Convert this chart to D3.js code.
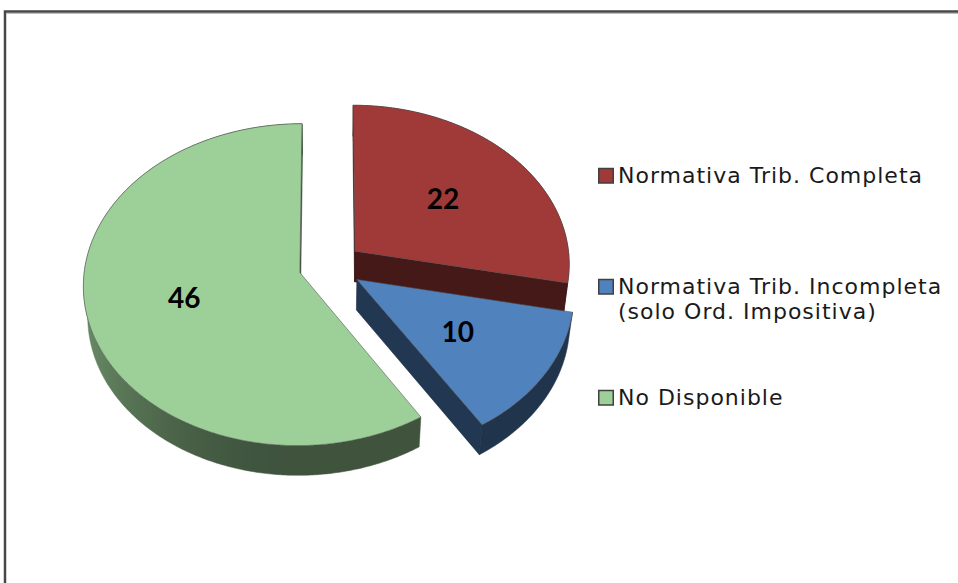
<!DOCTYPE html>
<html>
<head>
<meta charset="utf-8">
<script src="https://cdn.jsdelivr.net/npm/d3@7"></script>
<style>
  body { margin: 0; background: #fff; }
  svg { display: block; }
</style>
</head>
<body>
<div id="chart"></div>
<script>
// data
var categories = ["Normativa Trib. Completa", "Normativa Trib. Incompleta (solo Ord. Impositiva)", "No Disponible"];
var values = [22, 10, 46];
var topColors = ["#A03A38", "#5082BE", "#9DD099"];

var width = 958, height = 583;

const svg = d3.select("#chart")
  .append("svg")
    .attr("width", width)
    .attr("height", height);

// outer frame of the chart (runs off the right/bottom edge in the picture)
svg.append("rect")
  .attr("x", 5).attr("y", 11.5)
  .attr("width", 1200).attr("height", 1200)
  .attr("fill", "none")
  .attr("stroke", "#474747")
  .attr("stroke-width", 2.5);
svg.append("line")
  .attr("x1", 6.5).attr("x2", width).attr("y1", 13.5).attr("y2", 13.5)
  .attr("stroke", "#bbb").attr("stroke-width", 1);

// ---- simple perspective camera for the 3D pie ----
var cx = 330.5, cy = 266;      // where the pie centre lands on screen
var D = 8.97;                  // camera distance (in pie radii)
var tilt = 47.7 * Math.PI / 180;
var sinT = Math.sin(tilt), cosT = Math.cos(tilt);
var F = 215 * D;               // so a radius of 1 is ~215px wide
var thick = 0.215;             // pie thickness
var explode = 0.148;           // every slice pulled out by this much

function proj(u, v, y) {
  // u = right, v = away from viewer, y = up
  var depth = D + v * cosT - y * sinT;
  return [cx + F * u / depth, cy - F * (v * sinT + y * cosT) / depth];
}

function shade(hex, k) {
  var c = d3.rgb(hex);
  return d3.rgb(c.r * k, c.g * k, c.b * k).formatHex();
}
function sideLight(theta) {
  var s = Math.max(0, -Math.sin(theta));
  return 0.40 + 0.28 * s * s;
}

const pie = d3.pie().sort(null).value(d => d);
const arcs = pie(values);

const defs = svg.append("defs");
const line = d3.line();

var slices = arcs.map(function(a, i) {
  var mid = (a.startAngle + a.endAngle) / 2;
  var ou = Math.sin(mid) * explode, ov = Math.cos(mid) * explode;
  var n = Math.max(8, Math.ceil((a.endAngle - a.startAngle) / 0.01));
  var angles = d3.range(n + 1).map(k => a.startAngle + (a.endAngle - a.startAngle) * k / n);
  var topArc = angles.map(t => proj(ou + Math.sin(t), ov + Math.cos(t), 0));
  var botArc = angles.map(t => proj(ou + Math.sin(t), ov + Math.cos(t), -thick));
  var apexTop = proj(ou, ov, 0), apexBot = proj(ou, ov, -thick);
  return {i: i, a: a, mid: mid, ou: ou, ov: ov, angles: angles,
          topArc: topArc, botArc: botArc, apexTop: apexTop, apexBot: apexBot,
          depth: ov + Math.cos(mid) * 0.5};
});

// draw far slices first
slices.sort((p, q) => q.depth - p.depth);

function area(poly) {
  var s = 0;
  for (var k = 0; k < poly.length; k++) {
    var p = poly[k], q = poly[(k + 1) % poly.length];
    s += p[0] * q[1] - q[0] * p[1];
  }
  return s / 2;
}

const pieG = svg.append("g");

slices.forEach(function(s) {
  var g = pieG.append("g");
  var base = topColors[s.i];

  // outer curved side, lit from the left
  var front = s.angles.filter(t => Math.cos(t) < 0.05);
  if (front.length > 1) {
    var xs = front.map(t => proj(s.ou + Math.sin(t), s.ov + Math.cos(t), 0)[0]);
    var x0 = d3.min(xs), x1 = d3.max(xs);
    var grad = defs.append("linearGradient")
      .attr("id", "side" + s.i)
      .attr("gradientUnits", "userSpaceOnUse")
      .attr("x1", x0).attr("x2", x1 + 0.01).attr("y1", 0).attr("y2", 0);
    var stops = front.map((t, k) => ({off: (xs[k] - x0) / (x1 - x0 + 0.01), col: shade(base, sideLight(t))}))
      .sort((p, q) => p.off - q.off);
    grad.selectAll("stop").data(stops).join("stop")
      .attr("offset", d => d.off)
      .attr("stop-color", d => d.col);
    g.append("path")
      .attr("d", line(s.topArc.concat(s.botArc.slice().reverse())) + "Z")
      .attr("fill", "url(#side" + s.i + ")")
      .attr("stroke", "url(#side" + s.i + ")")
      .attr("stroke-width", 0.5);
  }

  // the two flat cut faces, only if they face the camera
  var last = s.topArc.length - 1;
  var faces = [
    [s.apexTop, s.apexBot, s.botArc[0], s.topArc[0]],
    [s.apexTop, s.topArc[last], s.botArc[last], s.apexBot]
  ];
  faces.forEach(function(f) {
    if (area(f) > 0) {
      g.append("path")
        .attr("d", line(f) + "Z")
        .attr("fill", shade(base, 0.43))
        .attr("stroke", shade(base, 0.35))
        .attr("stroke-width", 0.6);
    }
  });

  // top face
  g.append("path")
    .attr("d", line([s.apexTop].concat(s.topArc)) + "Z")
    .attr("fill", base)
    .attr("stroke", "#505050")
    .attr("stroke-opacity", 0.7)
    .attr("stroke-width", 0.8)
    .attr("stroke-linejoin", "round");
});

// value labels
var labelR = 0.55;
svg.append("g").selectAll("text")
  .data(slices)
  .join("text")
    .attr("x", d => proj(d.ou + Math.sin(d.mid) * labelR, d.ov + Math.cos(d.mid) * labelR, 0)[0])
    .attr("y", d => proj(d.ou + Math.sin(d.mid) * labelR, d.ov + Math.cos(d.mid) * labelR, 0)[1])
    .attr("text-anchor", "middle")
    .attr("dominant-baseline", "central")
    .attr("font-family", "Lato, sans-serif")
    .attr("font-weight", "bold")
    .attr("font-size", 28)
    .attr("fill", "#000")
    .text(d => values[d.i]);

// legend
var legX = 598, legTop = 183, legStep = 111, lineH = 25;
var legend = svg.append("g").selectAll("g")
  .data(categories)
  .join("g")
    .attr("transform", (d, i) => `translate(${legX},${legTop + i * legStep})`);

legend.append("rect")
  .attr("x", 0.75).attr("y", -14.5)
  .attr("width", 14.5).attr("height", 14.5)
  .attr("fill", (d, i) => topColors[i])
  .attr("stroke", "#404040")
  .attr("stroke-width", 1.5);

legend.append("text")
  .attr("x", 20)
  .attr("font-family", "'DejaVu Sans', sans-serif")
  .attr("font-size", 22)
  .attr("letter-spacing", 1)
  .attr("fill", "#1a1a1a")
  .selectAll("tspan")
  .data(d => d.replace(" (", "\n(").split("\n"))
  .join("tspan")
    .attr("x", 20)
    .attr("y", (d, k) => k * lineH)
    .text(d => d);
</script>
</body>
</html>
